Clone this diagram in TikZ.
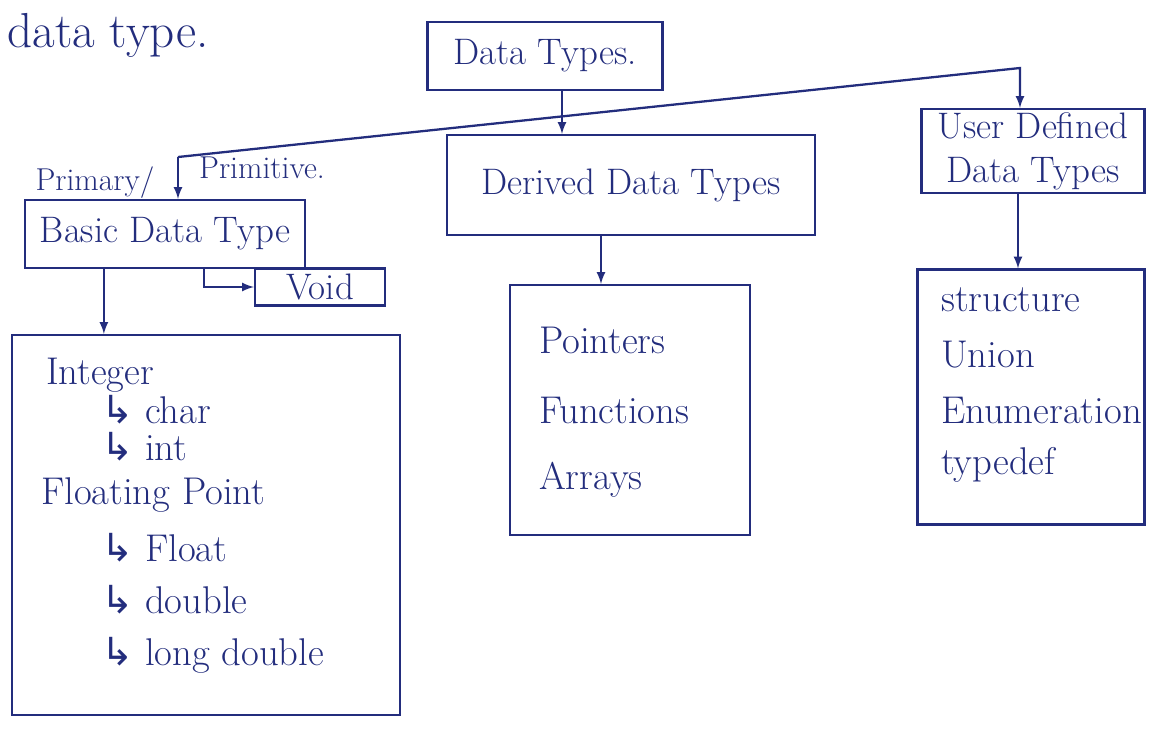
\documentclass[tikz,border=0pt]{standalone}
\usepackage{fontspec}
\newfontfamily\arrfont{DejaVu Sans}
\usetikzlibrary{calc}
\definecolor{ink}{RGB}{35,45,125}
\tikzset{
	box/.style={draw=ink, rectangle, inner sep=0pt, align=center},
	lbl/.style={draw=none, font=\fontsize{18}{21}\selectfont},
	item/.style={draw=none, anchor=west, inner sep=0pt, font=\fontsize{22}{26}\selectfont}
}
\newcommand{\sub}{{\arrfont ↳}\ }

\begin{document}
\begin{tikzpicture}[x=0.02cm, y=-0.02cm, line width=1.3pt, ink,
	every node/.style={text=ink, font=\fontsize{21}{25}\selectfont}]
\useasboundingbox (0,0) rectangle (1160,731);

\path (108,35) node[draw=none, font=\fontsize{28}{32}\selectfont] (title) {data type.};

\path (545,56) node[box, minimum width=4.7cm, minimum height=1.36cm] (types) {Data Types.};
\path (631,185) node[box, minimum width=7.36cm, minimum height=2cm] (derived) {Derived Data Types};
\path (1033,151) node[box, minimum width=4.46cm, minimum height=1.68cm] (user) {User Defined\\Data Types};
\path (165,234) node[box, minimum width=5.6cm, minimum height=1.36cm] (basic) {Basic Data Type};
\path (320,287) node[box, minimum width=2.6cm, minimum height=0.74cm] (void) {Void};

\path (95,183) node[lbl] (primary) {Primary/};
\path (262,168) node[lbl] (primitive) {Primitive.};

\path (206,525) node[box, minimum width=7.76cm, minimum height=7.6cm] (basiclist) {};
\path (630,410) node[box, minimum width=4.8cm, minimum height=5cm] (derivedlist) {};
\path (1031,397) node[box, minimum width=4.54cm, minimum height=5.1cm] (userlist) {};

\foreach \x/\y/\t [count=\i] in {45/375/Integer, 100/410/\sub char, 100/447/\sub int,
	40/495/Floating Point, 100/548/\sub Float, 100/600/\sub double, 100/655/\sub long double}
{
	\path (\x,\y) node[item] (b\i) {\t};
}

\foreach \t [count=\i] in {Pointers, Functions, Arrays}
{
	\path (538,270+70*\i) node[item] (d\i) {\t};
}

\foreach \t [count=\i] in {structure, Union, Enumeration, typedef}
{
	\path (940,245+55*\i) node[item] (u\i) {\t};
}

\coordinate (split) at (178,157);
\coordinate (turn) at (1020,68);

\draw [-latex] ($(types.south)+(17,0)$) -- ($(types.south |- derived.north)+(17,0)$);
\draw [-latex] (split) -- (turn) -- (turn |- user.north);
\draw [-latex] (split) -- (split |- basic.north);

\draw [-latex] ($(basic.south west)+(80,0)$) -- ($(basic.south west |- basiclist.north)+(80,0)$);
\draw [-latex] ($(basic.south west)+(180,0)$) |- (void.west);
\draw [-latex] ($(derived.south)+(-30,0)$) -- ($(derived.south |- derivedlist.north)+(-30,0)$);
\draw [-latex] ($(user.south)+(-15,0)$) -- ($(user.south |- userlist.north)+(-15,0)$);

\end{tikzpicture}
\end{document}
